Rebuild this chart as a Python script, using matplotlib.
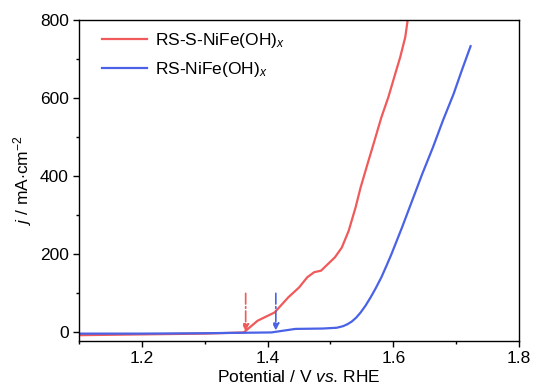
import matplotlib
matplotlib.use("Agg")
import matplotlib.pyplot as plt
from matplotlib.ticker import MultipleLocator

plt.rcParams['font.family'] = ['Liberation Sans', 'DejaVu Sans']
plt.rcParams['mathtext.fontset'] = 'custom'
plt.rcParams['mathtext.rm'] = 'Liberation Sans'
plt.rcParams['mathtext.it'] = 'Liberation Sans:italic'
plt.rcParams['mathtext.bf'] = 'Liberation Sans:bold'

# Data
red_v = [1.10, 1.20, 1.30, 1.362, 1.384, 1.411, 1.433, 1.450, 1.463, 1.474, 1.485,
         1.496, 1.507, 1.518, 1.529, 1.540, 1.548, 1.559, 1.570, 1.581, 1.592,
         1.603, 1.611, 1.619, 1.623, 1.626]
red_j = [-7, -5, -3, 0, 30, 51, 90, 115, 141, 154, 158, 175, 192, 217, 260, 320,
         371, 431, 490, 550, 601, 661, 704, 755, 800, 830]

blue_v = [1.10, 1.20, 1.30, 1.406, 1.444, 1.488, 1.510, 1.520, 1.527, 1.534, 1.541,
          1.548, 1.556, 1.564, 1.572, 1.581, 1.589, 1.597, 1.614, 1.630, 1.646,
          1.663, 1.679, 1.696, 1.709, 1.723]
blue_j = [-3, -3, -2, 0, 9, 10, 12, 16, 21, 28, 38, 51, 69, 90, 113, 141, 170, 200,
          269, 337, 405, 473, 542, 610, 670, 732]

labels = [r'RS-S-NiFe(OH)$_{\mathit{x}}$', r'RS-NiFe(OH)$_{\mathit{x}}$']
arrow_v = [1.365, 1.413]
arrow_top = 100
arrow_bottom = [3, 5]

red_c = '#F05A5A'
blue_c = '#4A62E6'

fig = plt.figure(figsize=(5.35, 3.92), dpi=100)
ax = fig.add_axes([0.148, 0.130, 0.822, 0.820])

ax.plot(red_v, red_j, color=red_c, lw=1.6, label=labels[0])
ax.plot(blue_v, blue_j, color=blue_c, lw=1.6, label=labels[1])

for v, b, c in zip(arrow_v, arrow_bottom, [red_c, blue_c]):
    ax.annotate('', xy=(v, b), xytext=(v, arrow_top),
                arrowprops=dict(arrowstyle='-|>', color=c, lw=1.2, linestyle='-.',
                                mutation_scale=10, shrinkA=0, shrinkB=0))

ax.set_xlim(1.1, 1.8)
ax.set_ylim(-22, 800)
ax.xaxis.set_major_locator(MultipleLocator(0.2))
ax.xaxis.set_minor_locator(MultipleLocator(0.1))
ax.yaxis.set_major_locator(MultipleLocator(200))
ax.yaxis.set_minor_locator(MultipleLocator(100))
ax.tick_params(which='major', direction='out', length=4, width=1, labelsize=12.5)
ax.tick_params(which='minor', direction='out', length=2.5, width=1)
ax.set_xticks([1.2, 1.4, 1.6, 1.8])
ax.set_xticklabels(['1.2', '1.4', '1.6', '1.8'])
for s in ax.spines.values():
    s.set_linewidth(1.0)

ax.set_xlabel(r'Potential / V $\mathit{vs}$. RHE', fontsize=12.5, labelpad=2)
ax.set_ylabel(r'$\mathit{j}$ / mA$\cdot$cm$^{-2}$', fontsize=12.5, labelpad=4)

leg = ax.legend(loc='upper left', frameon=False, fontsize=12.5, handlelength=2.6,
                handletextpad=0.5, borderaxespad=0.0, labelspacing=0.55,
                bbox_to_anchor=(0.035, 0.985))

fig.savefig('out.png', dpi=100)
